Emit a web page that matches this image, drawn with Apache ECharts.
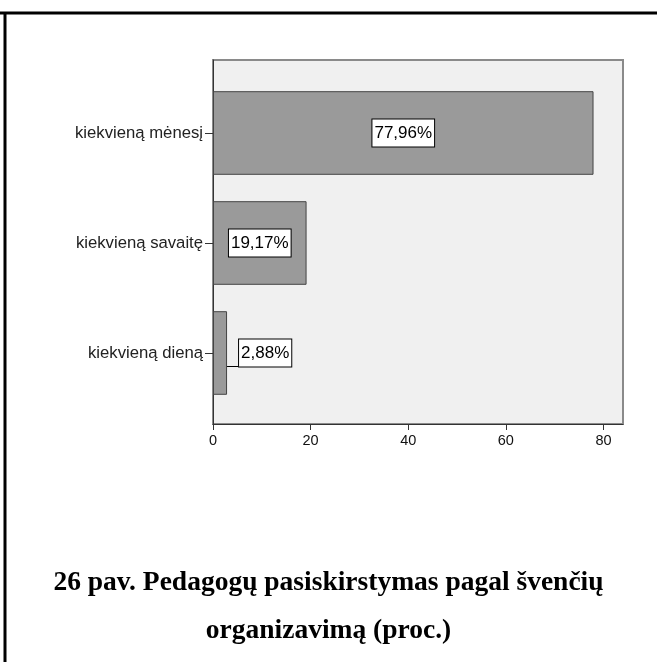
<!DOCTYPE html>
<html>
<head>
<meta charset="utf-8">
<script src="https://cdn.jsdelivr.net/npm/echarts@6/dist/echarts.min.js"></script>
<style>
html,body{margin:0;padding:0;background:#fff;}
#chart{width:657px;height:662px;}
</style>
</head>
<body>
<div id="chart"></div>
<script>
const categories = ['kiekvieną mėnesį', 'kiekvieną savaitę', 'kiekvieną dieną'];
const values = [77.96, 19.17, 2.88];
const xTicks = [0, 20, 40, 60, 80];
const titleLines = ['26 pav. Pedagogų pasiskirstymas pagal švenčių', 'organizavimą (proc.)'];

const chart = echarts.init(document.getElementById('chart'));
const labelStyle = {
  show: true,
  position: 'inside',
  formatter: p => p.value.toFixed(2).replace('.', ',') + '%',
  color: '#000',
  fontFamily: 'Liberation Sans',
  fontSize: 17,
  backgroundColor: '#fff',
  borderColor: '#000',
  borderWidth: 1,
  padding: [6, 2, 4, 2]
};
chart.setOption({
  animation: false,
  title: {
    text: titleLines.join('\n'),
    left: 'center',
    top: 554,
    textStyle: {
      fontFamily: 'Liberation Serif',
      fontWeight: 'bold',
      fontSize: 27.5,
      lineHeight: 48,
      color: '#000'
    }
  },
  graphic: [
    { type: 'line', shape: { x1: 0, y1: 13, x2: 657, y2: 13 }, style: { stroke: '#000', lineWidth: 3 }, z: 10 },
    { type: 'line', shape: { x1: 5, y1: 13, x2: 5, y2: 662 }, style: { stroke: '#000', lineWidth: 3 }, z: 10 }
  ],
  grid: [
    { left: 213, top: 78, width: 410, height: 330, show: false },
    { left: 213, top: 60, width: 410, height: 364, show: true, backgroundColor: '#f0f0f0', borderColor: '#8a8a8a', borderWidth: 2 }
  ],
  xAxis: [
    { gridIndex: 0, type: 'value', min: 0, max: 84, interval: 20, show: false },
    {
      gridIndex: 1, type: 'value', min: 0, max: 84, interval: 20,
      splitLine: { show: false },
      axisLine: { show: true, lineStyle: { color: '#333', width: 1 } },
      axisTick: { show: true, length: 6, customValues: xTicks, lineStyle: { color: '#333' } },
      axisLabel: {
        color: '#111', fontFamily: 'Liberation Sans', fontSize: 14.5, margin: 9,
        customValues: xTicks
      }
    }
  ],
  yAxis: [
    {
      gridIndex: 0, type: 'category', data: categories, inverse: true,
      axisLine: { show: false },
      axisTick: { show: true, alignWithLabel: true, length: 8, lineStyle: { color: '#333' } },
      axisLabel: { color: '#222', fontFamily: 'Liberation Sans', fontSize: 16.7, margin: 10 }
    },
    {
      gridIndex: 1, type: 'value', min: 0, max: 1,
      splitLine: { show: false },
      axisLabel: { show: false },
      axisTick: { show: false },
      axisLine: { show: true, lineStyle: { color: '#333', width: 1 } }
    }
  ],
  series: [{
    type: 'bar',
    xAxisIndex: 0,
    yAxisIndex: 0,
    data: values.map((v, i) => i === 2 ? { value: v, label: { position: 'right', distance: 12 } } : v),
    barCategoryGap: '24%',
    itemStyle: { color: '#9a9a9a', borderColor: '#444', borderWidth: 1 },
    label: labelStyle,
    labelLine: { show: true, lineStyle: { color: '#000', width: 1 } },
    z: 5
  }]
});
</script>
</body>
</html>
